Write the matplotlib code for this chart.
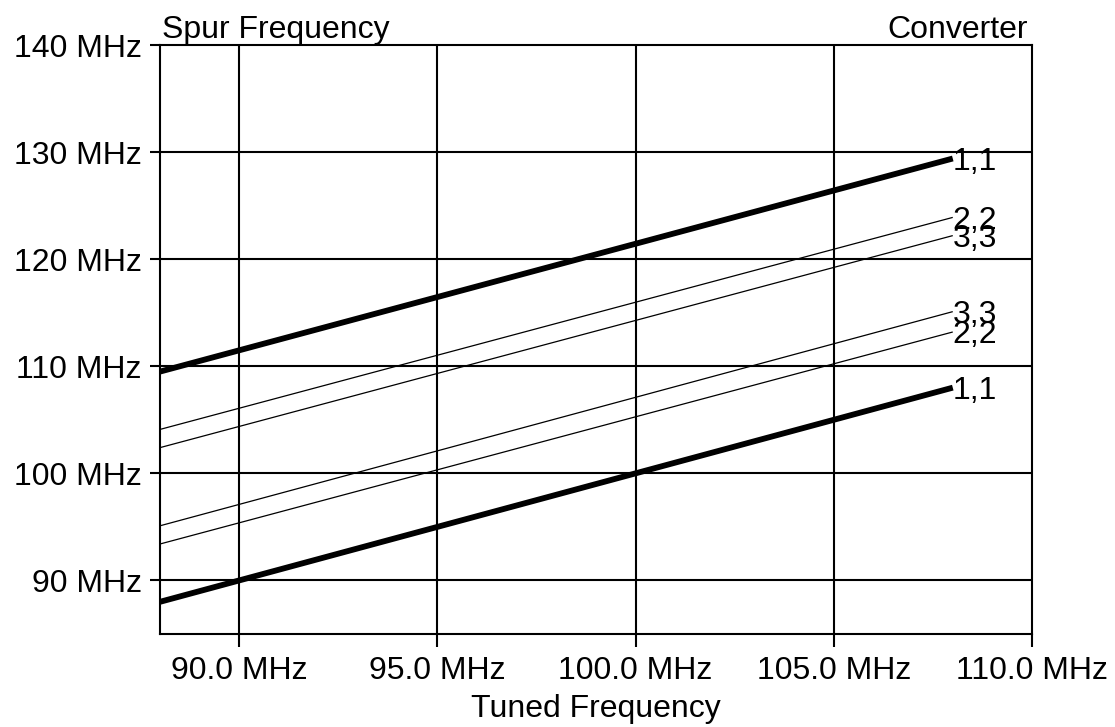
import matplotlib
matplotlib.use("Agg")
import matplotlib.pyplot as plt

plt.rcParams['font.family'] = ['Liberation Sans', 'DejaVu Sans']

# Tuned frequency span (MHz) and spur frequencies at each end of the span
tuned = [88.0, 108.0]
spur_labels = ["1,1", "2,2", "3,3", "3,3", "2,2", "1,1"]
spur_start = [109.5, 104.1, 102.4, 95.1, 93.4, 88.0]
spur_end = [129.4, 123.9, 122.2, 115.1, 113.2, 108.0]
spur_width = [4.2, 0.9, 0.9, 0.9, 0.9, 4.2]

x_ticks = [90, 95, 100, 105, 110]
x_tick_labels = ["90.0 MHz", "95.0 MHz", "100.0 MHz", "105.0 MHz", "110.0 MHz"]
y_ticks = [90, 100, 110, 120, 130, 140]
y_tick_labels = ["90 MHz", "100 MHz", "110 MHz", "120 MHz", "130 MHz", "140 MHz"]

FS = 23

fig = plt.figure(figsize=(11.15, 7.27), dpi=100)
ax = fig.add_axes([0.1435, 0.128, 0.7821, 0.8101])
ax.set_xlim(88, 110)
ax.set_ylim(85, 140)

for v in x_ticks[:-1]:
    ax.axvline(v, color='black', lw=1.5, zorder=1)
for v in y_ticks[:-1]:
    ax.axhline(v, color='black', lw=1.5, zorder=1)

for lab, y0, y1, w in zip(spur_labels, spur_start, spur_end, spur_width):
    ax.plot(tuned, [y0, y1], color='black', lw=w, solid_capstyle='butt', zorder=3)
    ax.text(tuned[1], y1, lab, fontsize=FS, ha='left', va='center_baseline', zorder=4)

ax.set_xticks(x_ticks)
ax.set_xticklabels(x_tick_labels, fontsize=FS)
ax.set_yticks(y_ticks)
ax.set_yticklabels(y_tick_labels, fontsize=FS)
ax.tick_params(axis='y', direction='out', length=7, width=1.5, color='black', pad=6)
ax.tick_params(axis='x', direction='out', length=9, width=1.5, color='black', pad=7)
for s in ax.spines.values():
    s.set_linewidth(1.5)
    s.set_color('black')

ax.set_xlabel("Tuned Frequency", fontsize=FS, labelpad=6)
ax.text(0.002, 1.0, "Spur Frequency", transform=ax.transAxes, fontsize=FS,
        ha='left', va='bottom')
ax.text(0.995, 1.0, "Converter", transform=ax.transAxes, fontsize=FS,
        ha='right', va='bottom')

fig.savefig("out.png", dpi=100)
